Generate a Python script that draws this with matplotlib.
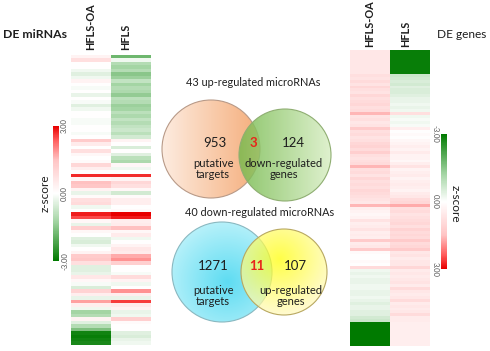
import numpy as np
import matplotlib.pyplot as plt
from matplotlib.colors import LinearSegmentedColormap, Normalize, to_rgb
from matplotlib.cm import ScalarMappable
from matplotlib.patches import Circle

plt.rcParams["font.family"] = ["Lato", "DejaVu Sans"]

# DE miRNAs z-scores (rows top to bottom)
mirna_oa = [0.3, 0.8, 0.0, 0.0, -0.2, -0.4, -0.2, 0.3, 0.0, -0.1,
            0.0, -0.3, 0.0, -0.1, -0.4, -0.2, 0.0, 0.0, -0.1, -0.1,
            0.0, 0.0, -0.1, 0.0, 1.3, 0.5, 0.0, 0.8, 0.2, 0.0,
            0.1, 1.0, 0.4, 0.0, 2.7, 0.2, 1.5, 1.4, 0.3, -0.3,
            0.1, 0.8, 0.9, -0.2, 0.0, 2.8, 2.5, 0.2, -0.3, 1.2,
            0.2, 0.0, -0.4, -0.5, -0.2, 0.0, 0.3, 1.3, 1.4, 0.8,
            -0.4, -0.4, -0.3, 0.6, 0.2, -0.1, -0.5, 1.1, 0.4, -0.3,
            1.8, 0.4, -0.2, -1.2, -1.0, 0.3, -0.4, -1.0, -1.6, -2.8,
            -2.9, -2.8, -2.7]
mirna_hfls = [-1.8, -0.2, -1.0, -1.2, -1.0, -1.5, -1.3, -0.8, -1.2, -1.0,
              -1.1, -1.4, -0.9, -1.0, -1.3, -1.2, -0.9, -1.1, -0.8, -1.0,
              -0.8, -0.7, -0.9, -0.6, 0.3, 0.0, -0.5, 0.0, -0.4, -0.9,
              -1.1, 0.2, -0.2, 0.0, 2.7, 0.3, 1.0, 0.8, 0.2, -0.6,
              0.1, 0.4, 0.4, 0.0, 0.1, 3.0, 2.8, 0.4, 0.5, 1.5,
              0.2, 0.5, -0.2, 0.0, 0.3, 0.6, 0.5, 1.7, 1.9, 1.2,
              0.0, 0.0, -0.1, 0.9, 0.3, -0.2, 0.0, 1.9, 0.4, -0.3,
              2.6, 0.5, 0.3, -0.3, -0.2, 1.2, 0.1, 0.0, 0.0, -0.4,
              -0.5, -0.3, -0.2]

# DE genes z-scores (rows top to bottom)
gene_oa = ([0.6] * 8 + [0.8, 0.7] + [0.9, 0.7, 1.0, 0.8, 0.7, 1.0]
           + [0.8, 0.9, 1.0, 0.8, 0.9] + [1.6] + [0.7, 0.8, 0.6, 0.7] + [1.3]
           + [0.8, 0.9, 0.7, 0.8, 1.0] + [1.1, 0.9, 1.2, 0.8] + [0.7, 0.8, 0.9]
           + [1.6] + [0.8, 0.9, 0.7, 1.0, 0.8, 0.9, 0.8, 1.0, 0.9, 0.8]
           + [0.7, 0.6, 1.6] + [0.4, 0.3, 0.2, 0.3]
           + [0.7, 0.4, 0.5, 0.7, 0.4, 0.5, 0.4] + [1.3] + [0.5, 0.6] + [1.3]
           + [0.1, 0.0, 0.0, 0.1, 0.0] + [0.9]
           + [-0.2, -0.3, -0.2, -0.3, -0.3, -0.2] + [-0.2]
           + [-0.3, -0.3, -0.2, -0.3, -0.4, -0.3, -0.3, -0.4, -0.4]
           + [-0.6, -0.7] + [-3.0] * 8)
gene_hfls = ([-2.9] * 8 + [-0.7, -0.6] + [-0.5, -0.6, -0.4, -0.5, -0.5, -0.4]
             + [-0.3, -0.3, -0.2, -0.3, -0.2] + [0.8] + [-0.2, -0.1, -0.2, -0.1]
             + [0.4] + [0.0, 0.1, 0.0, 0.2, 0.3] + [0.4, 0.3, 0.5, 0.3]
             + [0.3, 0.2, 0.4] + [0.7]
             + [0.3, 0.4, 0.5, 0.3, 0.4, 0.5, 0.4, 0.3, 0.5, 0.6]
             + [0.9, 1.0, 1.7] + [0.8, 0.9, 0.7, 0.8]
             + [0.9, 1.0, 0.8, 1.1, 0.9, 1.0, 0.9] + [1.3] + [0.9, 1.0] + [1.3]
             + [0.6, 0.7, 0.5, 0.6, 0.6] + [1.0]
             + [0.5, 0.6, 0.5, 0.6, 0.7, 0.5] + [0.9]
             + [0.6, 0.5, 0.6, 0.9, 0.5, 0.6, 0.5, 0.6, 0.9]
             + [0.5, 0.5] + [0.4] * 8)

columns = ["HFLS-OA", "HFLS"]
cbar_ticks = [-3, 0, 3]

up_title = "43 up-regulated microRNAs"
up_counts = [953, 3, 124]
up_labels = ["putative\ntargets", "down-regulated\ngenes"]
down_title = "40 down-regulated microRNAs"
down_counts = [1271, 11, 107]
down_labels = ["putative\ntargets", "up-regulated\ngenes"]

W, H = 490, 351
cmap = LinearSegmentedColormap.from_list(
    "gwr", [(0.0, "#007a00"), (0.3, "#a6d6a6"), (0.5, "#ffffff"),
            (0.75, "#ffc4c4"), (0.9, "#ff5a5a"), (1.0, "#e80000")])
norm = Normalize(-3, 3)

fig = plt.figure(figsize=(W / 100, H / 100), dpi=100)


def px(x, y, w, h):
    return [x / W, 1 - (y + h) / H, w / W, h / H]


# overlay axis in pixel coordinates for the venn diagrams and labels
ov = fig.add_axes([0, 0, 1, 1])
ov.set_axis_off()


def venn_circle(cx, cy, r, c1, c2, mode, alpha, edge, z, off=(0, 0)):
    n = 200
    g = np.linspace(-1, 1, n)
    X, Y = np.meshgrid(g, g)
    if mode == "h":
        t = (X + 1) / 2
    else:
        t = np.clip(np.hypot(X - off[0], Y - off[1]) / 1.4, 0, 1)
    a, b = np.array(to_rgb(c1)), np.array(to_rgb(c2))
    img = a * (1 - t[..., None]) + b * t[..., None]
    im = ov.imshow(img, extent=(cx - r, cx + r, cy + r, cy - r), alpha=alpha,
                   zorder=z, interpolation="bilinear", aspect="auto")
    clip = Circle((cx, cy), r, transform=ov.transData)
    im.set_clip_path(clip)
    ov.add_patch(Circle((cx, cy), r, fill=False, edgecolor=edge, lw=0.8, zorder=z + 0.5))


venn_circle(211, 149, 49, "#fdece0", "#f5ad7a", "h", 1.0, "#b89a88", 1)
venn_circle(285, 155, 46, "#74b94a", "#d8eec4", "h", 0.82, "#8fae72", 2)
venn_circle(222, 272, 50, "#5edcf2", "#c4f4fb", "r", 1.0, "#8ab8c0", 1, off=(0.1, 0.2))
venn_circle(284, 272, 43, "#ffff00", "#fff9cc", "r", 0.72, "#b8a860", 2, off=(-0.1, -0.3))

ov.set_xlim(0, W)
ov.set_ylim(H, 0)

tc = "#1e1e1e"
ov.text(253, 82, up_title, ha="center", va="center", fontsize=7.8, color=tc)
ov.text(215, 143, str(up_counts[0]), ha="center", va="center", fontsize=9.5, color=tc, zorder=5)
ov.text(253, 143, str(up_counts[1]), ha="center", va="center", fontsize=9.5,
        color="#e8241a", fontweight="bold", zorder=5)
ov.text(293, 143, str(up_counts[2]), ha="center", va="center", fontsize=9.5, color=tc, zorder=5)
ov.text(213, 169, up_labels[0], ha="center", va="center", fontsize=8, color=tc,
        linespacing=1.0, zorder=5)
ov.text(284, 169, up_labels[1], ha="center", va="center", fontsize=8, color=tc,
        linespacing=1.0, zorder=5)

ov.text(260, 213, down_title, ha="center", va="center", fontsize=7.8, color=tc)
ov.text(213, 266, str(down_counts[0]), ha="center", va="center", fontsize=9.5, color=tc, zorder=5)
ov.text(257, 266, str(down_counts[1]), ha="center", va="center", fontsize=9.5,
        color="#e8241a", fontweight="bold", zorder=5)
ov.text(295, 266, str(down_counts[2]), ha="center", va="center", fontsize=9.5, color=tc, zorder=5)
ov.text(213, 296, down_labels[0], ha="center", va="center", fontsize=8, color=tc,
        linespacing=1.0, zorder=5)
ov.text(291, 296, down_labels[1], ha="center", va="center", fontsize=8, color=tc,
        linespacing=1.0, zorder=5)

# heatmaps
hm_left = fig.add_axes(px(71, 55, 80, 290))
hm_left.imshow(np.column_stack([mirna_oa, mirna_hfls]), cmap=cmap, norm=norm,
               aspect="auto", interpolation="nearest")
hm_left.set_axis_off()

hm_right = fig.add_axes(px(350, 50, 80, 296))
hm_right.imshow(np.column_stack([gene_oa, gene_hfls]), cmap=cmap, norm=norm,
                aspect="auto", interpolation="nearest")
hm_right.set_axis_off()

# titles and column labels
ov.text(3, 34, "DE miRNAs", ha="left", va="center", fontsize=8.8, fontweight="bold", color=tc)
ov.text(486, 34, "DE genes", ha="right", va="center", fontsize=8.6, color=tc)
for x, lab in zip([91, 126], columns):
    ov.text(x, 50, lab, rotation=90, ha="center", va="bottom", fontsize=7.8,
            fontweight="bold", color=tc)
for x, lab in zip([370, 406], columns):
    ov.text(x, 47, lab, rotation=90, ha="center", va="bottom", fontsize=7.8,
            fontweight="bold", color=tc)

# colorbars
sm = ScalarMappable(norm=norm, cmap=cmap)
cax_l = fig.add_axes(px(53, 126, 6, 135))
cb_l = fig.colorbar(sm, cax=cax_l, ticks=cbar_ticks, format="%.2f")
cb_l.outline.set_visible(False)
cax_l.tick_params(length=0, labelsize=5.5, labelcolor="#555555", pad=1.5)
for t in cax_l.get_yticklabels():
    t.set_rotation(90)
    t.set_va("center")
ov.text(45, 193, "z-score", rotation=90, ha="center", va="center", fontsize=8.5, color=tc)

cax_r = fig.add_axes(px(441, 134, 6, 135))
cb_r = fig.colorbar(sm, cax=cax_r, ticks=cbar_ticks, format="%.2f")
cb_r.outline.set_visible(False)
cax_r.invert_yaxis()
cax_r.yaxis.set_ticks_position("left")
cax_r.tick_params(length=0, labelsize=5.5, labelcolor="#555555", pad=1.5)
for t in cax_r.get_yticklabels():
    t.set_rotation(-90)
    t.set_va("center")
ov.text(455, 204, "z-score", rotation=-90, ha="center", va="center", fontsize=8.5, color=tc)

fig.savefig("out.png", dpi=100)
